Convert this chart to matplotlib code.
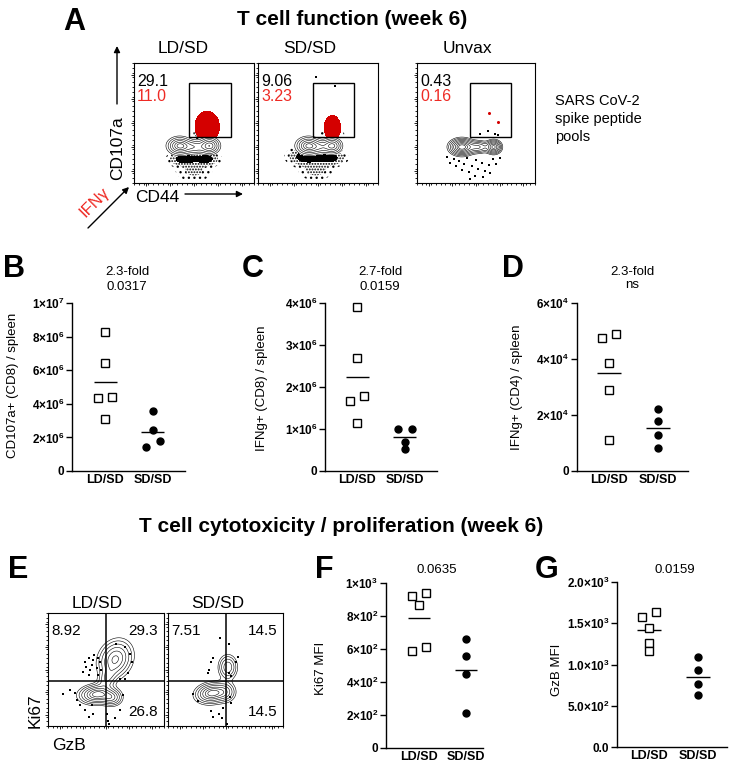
import numpy as np
import matplotlib
matplotlib.use("Agg")
import matplotlib.pyplot as plt
from matplotlib.patches import Rectangle
from matplotlib.ticker import MultipleLocator, FixedLocator

plt.rcParams['font.family'] = ['Liberation Sans', 'DejaVu Sans']
plt.rcParams['mathtext.fontset'] = 'custom'
plt.rcParams['mathtext.rm'] = 'Liberation Sans'
plt.rcParams['mathtext.bf'] = 'Liberation Sans:bold'
plt.rcParams['hatch.linewidth'] = 0.9

W, H = 734, 767
RED_TXT = '#ee2a24'
RED_DOT = '#d40000'

# ---------------- summary data (B, C, D, F, G) ----------------
groups = ['LD/SD', 'SD/SD']

cd107a_ld = [8.25e6, 6.41e6, 4.36e6, 4.42e6, 3.07e6]
cd107a_sd = [3.60e6, 2.43e6, 1.81e6, 1.43e6]
ifng_cd8_ld = [3.90e6, 2.69e6, 1.67e6, 1.78e6, 1.15e6]
ifng_cd8_sd = [1.00e6, 1.00e6, 0.69e6, 0.52e6]
ifng_cd4_ld = [4.74e4, 4.90e4, 3.85e4, 2.89e4, 1.10e4]
ifng_cd4_sd = [2.21e4, 1.80e4, 1.30e4, 0.82e4]
ki67_ld = [920, 940, 869, 588, 610]
ki67_sd = [659, 558, 448, 215]
gzb_ld = [1570, 1639, 1438, 1265, 1165]
gzb_sd = [1088, 936, 763, 627]

# horizontal spread of the points as drawn
cd107a_dx = ([0, 0, -0.14, 0.15, 0], [0, 0, 0.14, -0.15])
ifng_cd8_dx = ([0, 0, -0.14, 0.14, 0], [-0.14, 0.14, 0, 0])
ifng_cd4_dx = ([-0.14, 0.14, 0, 0, 0], [0, 0, 0, 0])
ki67_dx = ([-0.14, 0.14, 0, -0.14, 0.14], [0, 0, 0, 0])
gzb_dx = ([-0.14, 0.14, 0, 0, 0], [0, 0, 0, 0])


def sci(m, e):
    return r'$\mathbf{' + m + r'×10^{' + e + r'}}$'


cd107a_ticks = [0, 2e6, 4e6, 6e6, 8e6, 1e7]
cd107a_labels = ['0', sci('2', '6'), sci('4', '6'), sci('6', '6'), sci('8', '6'), sci('1', '7')]
ifng_cd8_ticks = [0, 1e6, 2e6, 3e6, 4e6]
ifng_cd8_labels = ['0', sci('1', '6'), sci('2', '6'), sci('3', '6'), sci('4', '6')]
ifng_cd4_ticks = [0, 2e4, 4e4, 6e4]
ifng_cd4_labels = ['0', sci('2', '4'), sci('4', '4'), sci('6', '4')]
ki67_ticks = [0, 200, 400, 600, 800, 1000]
ki67_labels = ['0', sci('2', '2'), sci('4', '2'), sci('6', '2'), sci('8', '2'), sci('1', '3')]
gzb_ticks = [0, 500, 1000, 1500, 2000]
gzb_labels = ['0.0', sci('5.0', '2'), sci('1.0', '3'), sci('1.5', '3'), sci('2.0', '3')]

# ---------------- flow panels (A, E) ----------------
a_samples = ['LD/SD', 'SD/SD', 'Unvax']
a_cd107a_pct = ['29.1', '9.06', '0.43']
a_ifng_pct = ['11.0', '3.23', '0.16']

# populations: (x, y, sx, sy, weight, angle) in plot units 0..1
a_pop = [
    [(0.38, 0.31, 0.050, 0.036, 1.0, 0), (0.63, 0.31, 0.042, 0.034, 0.9, 0),
     (0.50, 0.30, 0.060, 0.030, 0.45, 0)],
    [(0.42, 0.31, 0.050, 0.036, 1.0, 0), (0.62, 0.31, 0.040, 0.032, 0.8, 0),
     (0.52, 0.30, 0.050, 0.030, 0.4, 0)],
    [(0.38, 0.30, 0.055, 0.036, 1.0, 0), (0.65, 0.30, 0.035, 0.030, 0.8, 0),
     (0.52, 0.30, 0.050, 0.028, 0.45, 0)],
]
a_cloud = [
    [(0.42, 0.20, 0.07, 0.030, 1.0, 0), (0.60, 0.20, 0.06, 0.030, 0.9, 0),
     (0.50, 0.10, 0.09, 0.050, 0.30, 0), (0.56, 0.41, 0.05, 0.025, 0.5, 0)],
    [(0.40, 0.22, 0.08, 0.040, 1.0, 0), (0.60, 0.21, 0.07, 0.035, 0.9, 0),
     (0.48, 0.11, 0.08, 0.050, 0.35, 0), (0.62, 0.41, 0.05, 0.025, 0.5, 0)],
    [],
]
a_red = [
    [(0.61, 0.47, 0.052, 0.065, 1.0, 0)],
    [(0.62, 0.46, 0.035, 0.052, 1.0, 0)],
    [],
]
a_gate = [(0.46, 0.38, 0.81, 0.83), (0.46, 0.38, 0.80, 0.83), (0.45, 0.38, 0.80, 0.83)]
a_rings = [6, 6, 8]
a_black_x = [[], [0.48, 0.64],
             [0.25, 0.28, 0.31, 0.33, 0.36, 0.38, 0.40, 0.42, 0.44, 0.47, 0.50, 0.52, 0.55,
              0.58, 0.61, 0.64, 0.67, 0.70, 0.45, 0.49, 0.56, 0.62, 0.53, 0.60, 0.66, 0.69]]
a_black_y = [[], [0.88, 0.81],
             [0.22, 0.17, 0.20, 0.14, 0.18, 0.11, 0.16, 0.21, 0.09, 0.14, 0.19, 0.12, 0.17,
              0.10, 0.15, 0.20, 0.16, 0.21, 0.03, 0.06, 0.05, 0.08, 0.41, 0.43, 0.41, 0.40]]
a_red_x = [[], [], [0.61, 0.69]]
a_red_y = [[], [], [0.58, 0.51]]

e_samples = ['LD/SD', 'SD/SD']
e_quads = [('8.92', '29.3', '26.8'), ('7.51', '14.5', '14.5')]
e_pop = [
    [(0.42, 0.28, 0.080, 0.045, 1.0, 0.08), (0.55, 0.25, 0.050, 0.040, 0.55, 0),
     (0.58, 0.59, 0.075, 0.095, 0.80, -0.45), (0.51, 0.42, 0.040, 0.060, 0.35, -0.5)],
    [(0.38, 0.29, 0.075, 0.048, 1.0, 0.15), (0.50, 0.30, 0.050, 0.050, 0.4, 0),
     (0.52, 0.52, 0.045, 0.060, 0.55, 0)],
]
e_dots_x = [
    [0.32, 0.35, 0.38, 0.40, 0.42, 0.36, 0.45, 0.33, 0.39, 0.43, 0.30, 0.46, 0.43, 0.35,
     0.59, 0.66, 0.71, 0.72, 0.69, 0.66, 0.62, 0.13, 0.19, 0.23, 0.25, 0.28, 0.32, 0.35,
     0.39, 0.38, 0.52, 0.53, 0.58, 0.51, 0.62, 0.65],
    [0.45, 0.53, 0.39, 0.37, 0.36, 0.35, 0.61, 0.59, 0.53, 0.55, 0.54, 0.55, 0.22, 0.26,
     0.37, 0.39, 0.44, 0.47, 0.48, 0.51],
]
e_dots_y = [
    [0.57, 0.60, 0.54, 0.63, 0.51, 0.50, 0.57, 0.52, 0.58, 0.60, 0.48, 0.50, 0.45, 0.45,
     0.73, 0.70, 0.64, 0.57, 0.47, 0.42, 0.42, 0.28, 0.32, 0.29, 0.23, 0.19, 0.14, 0.08,
     0.11, 0.19, 0.04, 0.02, 0.07, 0.11, 0.14, 0.27],
    [0.78, 0.73, 0.60, 0.57, 0.50, 0.47, 0.61, 0.57, 0.47, 0.44, 0.26, 0.20, 0.28, 0.22,
     0.13, 0.08, 0.11, 0.07, 0.16, 0.02],
]

fig = plt.figure(figsize=(W / 100, H / 100), dpi=100)

g = np.linspace(0, 1, 301)
GX, GY = np.meshgrid(g, g)


def add_ax(x0, y0, x1, y1):
    return fig.add_axes([x0 / W, 1 - y1 / H, (x1 - x0) / W, (y1 - y0) / H])


def density(comps):
    z = np.zeros_like(GX)
    for cx, cy, sx, sy, w, ang in comps:
        c, s = np.cos(ang), np.sin(ang)
        u = (GX - cx) * c + (GY - cy) * s
        v = -(GX - cx) * s + (GY - cy) * c
        z += w * np.exp(-0.5 * ((u / sx) ** 2 + (v / sy) ** 2))
    return z / z.max()


def ring_levels(n, r_out=2.3, r_in=0.5):
    # evenly spaced rings for a gaussian-like bump
    return np.sort(np.exp(-0.5 * np.linspace(r_out, r_in, n) ** 2))


def flow_box(ax):
    ax.set_xlim(0, 1)
    ax.set_ylim(0, 1)
    for axis in (ax.xaxis, ax.yaxis):
        axis.set_major_locator(FixedLocator([0.1, 0.3, 0.5, 0.7, 0.9]))
        axis.set_minor_locator(MultipleLocator(0.04))
    ax.tick_params(which='both', labelbottom=False, labelleft=False,
                   direction='out', width=0.6)
    ax.tick_params(which='major', length=2.5)
    ax.tick_params(which='minor', length=1.2)
    for sp in ax.spines.values():
        sp.set_linewidth(0.8)


# ---- panel A ----
a_boxes = [(134, 63, 254, 183), (258, 63, 378, 183), (417, 63, 535, 183)]
for i in range(3):
    ax = add_ax(*a_boxes[i])
    flow_box(ax)
    if a_cloud[i]:
        C = density(a_cloud[i])
        ax.contourf(GX, GY, C, levels=[0.07, 0.22], colors='none', hatches=['...'])
        ax.contourf(GX, GY, C, levels=[0.22, 0.62], colors='none', hatches=['......'])
        ax.contourf(GX, GY, C, levels=[0.62, 2], colors='black')
    P = density(a_pop[i])
    lv = ring_levels(a_rings[i])
    ax.contourf(GX, GY, P, levels=[lv[0], 2], colors='white')
    ax.contour(GX, GY, P, levels=lv, colors='black', linewidths=0.4)
    gx0, gy0, gx1, gy1 = a_gate[i]
    gate = Rectangle((gx0, gy0), gx1 - gx0, gy1 - gy0, fill=False, lw=1.0,
                     ec='black', zorder=5)
    ax.add_patch(gate)
    if a_red[i]:
        R = density(a_red[i])
        cs = ax.contourf(GX, GY, R, levels=[0.15, 2], colors=RED_DOT, zorder=3)
        cs.set_clip_path(gate)
    ax.plot(a_black_x[i], a_black_y[i], 's', ms=1.6, mew=0, color='black', zorder=4)
    ax.plot(a_red_x[i], a_red_y[i], 'o', ms=2.2, mew=0, color=RED_DOT, zorder=4)
    ax.text(0.025, 0.85, a_cd107a_pct[i], transform=ax.transAxes, fontsize=11.5,
            va='center', ha='left')
    ax.text(0.025, 0.72, a_ifng_pct[i], transform=ax.transAxes, fontsize=11.5,
            va='center', ha='left', color=RED_TXT)

# ---- panel E ----
e_boxes = [(48, 613, 164, 726), (168, 613, 283, 726)]
for i in range(2):
    ax = add_ax(*e_boxes[i])
    flow_box(ax)
    P = density(e_pop[i])
    ax.contour(GX, GY, P, levels=ring_levels(7, 2.2, 0.5), colors='black',
               linewidths=0.4)
    ax.plot(e_dots_x[i], e_dots_y[i], 's', ms=1.6, mew=0, color='black')
    ax.axvline(0.50, color='black', lw=1.1)
    ax.axhline(0.40, color='black', lw=1.1)
    ul, ur, lr = e_quads[i]
    ax.text(0.03, 0.84, ul, transform=ax.transAxes, fontsize=11, va='center', ha='left')
    ax.text(0.95, 0.84, ur, transform=ax.transAxes, fontsize=11, va='center', ha='right')
    ax.text(0.95, 0.12, lr, transform=ax.transAxes, fontsize=11, va='center', ha='right')


# ---- dot plots ----
def dot_panel(box, ld, sd, dx, ticks, labels, xlim):
    ax = add_ax(*box)
    ax.plot(np.array(dx[0]), ld, 's', mfc='white', mec='black', ms=5.2, mew=1.0,
            clip_on=False, zorder=3)
    ax.plot(1 + np.array(dx[1]), sd, 'o', color='black', ms=5.0, clip_on=False, zorder=3)
    ax.hlines(np.mean(ld), -0.24, 0.24, color='black', lw=1.0)
    ax.hlines(np.mean(sd), 0.76, 1.24, color='black', lw=1.0)
    ax.set_xlim(*xlim)
    ax.set_ylim(ticks[0], ticks[-1])
    ax.spines['top'].set_visible(False)
    ax.spines['right'].set_visible(False)
    for sp in ('left', 'bottom'):
        ax.spines[sp].set_linewidth(1.0)
    ax.set_yticks(ticks)
    ax.set_yticklabels(labels, fontsize=8.5, fontweight='bold')
    ax.set_xticks([0, 1])
    ax.set_xticklabels(groups, fontsize=9, fontweight='bold')
    ax.tick_params(axis='y', length=4, width=1.0, pad=1.5)
    ax.tick_params(axis='x', length=0, pad=2.5)
    return ax


dot_panel((72, 303, 185, 471), cd107a_ld, cd107a_sd, cd107a_dx,
          cd107a_ticks, cd107a_labels, (-0.69, 1.67))
dot_panel((325, 303, 437, 471), ifng_cd8_ld, ifng_cd8_sd, ifng_cd8_dx,
          ifng_cd8_ticks, ifng_cd8_labels, (-0.67, 1.67))
dot_panel((577, 303, 688, 471), ifng_cd4_ld, ifng_cd4_sd, ifng_cd4_dx,
          ifng_cd4_ticks, ifng_cd4_labels, (-0.65, 1.61))
dot_panel((386, 583, 483, 748), ki67_ld, ki67_sd, ki67_dx,
          ki67_ticks, ki67_labels, (-0.70, 1.36))
dot_panel((617, 582, 727, 747), gzb_ld, gzb_sd, gzb_dx,
          gzb_ticks, gzb_labels, (-0.65, 1.59))

# ---- overlay for labels and arrows (pixel coordinates) ----
ov = fig.add_axes([0, 0, 1, 1])
ov.set_xlim(0, W)
ov.set_ylim(H, 0)
ov.axis('off')
ov.patch.set_alpha(0)

for letter, x, y in [('A', 63, 30), ('B', 3, 277), ('C', 242, 277), ('D', 502, 277),
                     ('E', 8, 578), ('F', 315, 578), ('G', 535, 578)]:
    ov.text(x, y, letter, fontsize=22, fontweight='bold', ha='left', va='baseline')

ov.text(352, 25, 'T cell function (week 6)', fontsize=15, fontweight='bold',
        ha='center', va='baseline')
ov.text(341, 532, 'T cell cytotoxicity / proliferation (week 6)', fontsize=15,
        fontweight='bold', ha='center', va='baseline')

for name, x in zip(a_samples, [183, 310, 467]):
    ov.text(x, 53, name, fontsize=12.5, ha='center', va='baseline')
for name, x in zip(e_samples, [97, 218]):
    ov.text(x, 608, name, fontsize=12.5, ha='center', va='baseline')

arrow = dict(arrowstyle='-|>', lw=1.0, color='black', mutation_scale=9,
             shrinkA=0, shrinkB=0)
ov.annotate('', xy=(117, 46), xytext=(117, 104), arrowprops=arrow)
ov.annotate('', xy=(243, 194), xytext=(185, 194), arrowprops=arrow)
ov.annotate('', xy=(129, 187), xytext=(88, 228), arrowprops=arrow)
ov.text(118, 148, 'CD107a', fontsize=12.5, rotation=90, ha='center', va='center')
ov.text(135, 202, 'CD44', fontsize=12.5, ha='left', va='baseline')
ov.text(95, 202, 'IFNγ', fontsize=12, rotation=45, ha='center', va='center',
        color=RED_TXT)
ov.text(555, 119, 'SARS CoV-2\nspike peptide\npools', fontsize=10.5, ha='left',
        va='center', linespacing=1.35)

ov.text(35, 711, 'Ki67', fontsize=12.5, rotation=90, ha='center', va='center')
ov.text(52, 750, 'GzB', fontsize=12.5, ha='left', va='baseline')

for text, x, y in [('CD107a+ (CD8) / spleen', 13, 385), ('IFNg+ (CD8) / spleen', 262, 388),
                   ('IFNg+ (CD4) / spleen', 517, 387), ('Ki67 MFI', 321, 668),
                   ('GzB MFI', 557, 670)]:
    ov.text(x, y, text, fontsize=9.5, rotation=90, ha='center', va='center')

for text, x, y in [('2.3-fold', 127, 272), ('0.0317', 127, 287),
                   ('2.7-fold', 380, 272), ('0.0159', 380, 287),
                   ('2.3-fold', 632, 272), ('ns', 632, 285),
                   ('0.0635', 437, 570), ('0.0159', 675, 570)]:
    ov.text(x, y, text, fontsize=9.5, ha='center', va='center')

fig.savefig('out.png', dpi=100)
